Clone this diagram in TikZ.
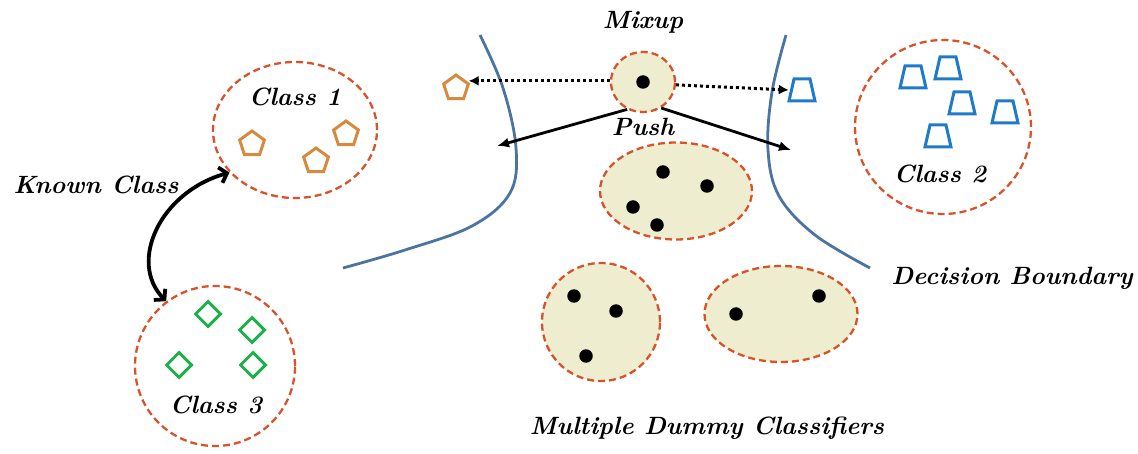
\documentclass[tikz,border=0pt]{standalone}
\usetikzlibrary{shapes.geometric,arrows.meta}
\definecolor{dashred}{HTML}{D9532A}
\definecolor{cream}{HTML}{EEEDD0}
\definecolor{penta}{HTML}{D68A3E}
\definecolor{trap}{HTML}{1F7BC9}
\definecolor{dia}{HTML}{1DB04A}
\definecolor{bound}{HTML}{4B74A0}
\tikzset{
  classcirc/.style={ellipse,draw=dashred,line width=2.3pt,dash pattern=on 7pt off 4pt,inner sep=0pt},
  dummy/.style={classcirc,fill=cream},
  pent/.style={regular polygon,regular polygon sides=5,draw=penta,line width=3pt,minimum size=26pt,inner sep=0pt},
  trpbox/.style={rectangle,minimum width=26pt,minimum height=24pt,inner sep=0pt},
  trapz/.pic={\draw[trap,line width=3pt,line join=miter] (-13,11) -- (13,11) -- (8,-11) -- (-8,-11) -- cycle;},
  dmd/.style={diamond,draw=dia,line width=3pt,minimum size=26pt,inner sep=0pt},
  dot/.style={circle,fill=black,minimum size=13.5pt,inner sep=0pt},
  lbl/.style={font=\fontsize{25}{28}\selectfont\bfseries\itshape},
  bnd/.style={draw=bound,line width=2.8pt},
  pusharrow/.style={line width=2.8pt,-{Latex[length=12pt,width=10pt]}},
  mixarrow/.style={line width=3pt,dash pattern=on 3pt off 3pt,-{Latex[length=10pt,width=10pt]}},
}
\begin{document}
\begin{tikzpicture}[x=1pt,y=-1pt]
\useasboundingbox (0,0) rectangle (1138,454);
% decision boundaries
\draw[bnd] plot[smooth,tension=0.6] coordinates {(480,35) (503,88) (516,148) (510,193) (472,226) (405,250) (343,268)};
\draw[bnd] plot[smooth,tension=0.6] coordinates {(786,35) (772,92) (768,150) (779,196) (815,235) (870,268)};
% class 1
\node[classcirc,minimum width=164pt,minimum height=136pt] (c1) at (295,130) {};
\node[lbl] (c1t) at (295,97) {Class 1};
\node[pent] (p1) at (252,144) {};
\node[pent] (p2) at (316,161) {};
\node[pent] (p3) at (346,134) {};
% class 3
\node[classcirc,minimum width=160pt,minimum height=160pt] (c3) at (215,366) {};
\node[lbl] (c3t) at (216,405) {Class 3};
\node[dmd] (d1) at (208,314) {};
\node[dmd] (d2) at (252,330) {};
\node[dmd] (d3) at (179,365) {};
\node[dmd] (d4) at (253,365) {};
% known class
\node[lbl] (kc) at (96,185) {Known Class};
\draw[line width=3.8pt,{Straight Barb[length=7pt,width=16pt]}-{Straight Barb[length=7pt,width=16pt]}] (c1.213) .. controls (160,192) and (128,262) .. (c3.127);
% class 2
\node[classcirc,minimum width=176pt,minimum height=174pt] (c2) at (943,127) {};
\node[lbl] (c2t) at (940,174) {Class 2};
\node[trpbox] (t1) at (913,77) {}; \pic at (t1) {trapz};
\node[trpbox] (t2) at (948,68) {}; \pic at (t2) {trapz};
\node[trpbox] (t3) at (962,103) {}; \pic at (t3) {trapz};
\node[trpbox] (t4) at (1005,112) {}; \pic at (t4) {trapz};
\node[trpbox] (t5) at (938,136) {}; \pic at (t5) {trapz};
\node[lbl] (db) at (1012,278) {Decision Boundary};
% mixup
\node[dummy,minimum width=64pt,minimum height=60pt] (mx) at (643,82) {};
\node[dot] (mxd) at (643,82) {};
\node[lbl] (mxt) at (643,22) {Mixup};
\node[pent] (lp) at (456,88) {};
\node[trpbox] (rt) at (802,90) {}; \pic at (rt) {trapz};
\draw[mixarrow] (mx.178) -- (lp.east |- mx.178);
\draw[mixarrow] (mx.-5) -- (rt.west);
\node[lbl] (pt) at (643,127) {Push};
\coordinate (pl) at (497,146);
\coordinate (pr) at (791,150);
\draw[pusharrow] (mx.240) -- (pl);
\draw[pusharrow] (mx.-55) -- (pr);
% dummy classifiers
\node[dummy,minimum width=152pt,minimum height=97pt] (e1) at (676,191) {};
\node[dot] (e1a) at (663,172) {};
\node[dot] (e1b) at (707,186) {};
\node[dot] (e1c) at (633,207) {};
\node[dot] (e1d) at (657,225) {};
\node[dummy,minimum width=118pt,minimum height=118pt] (e2) at (601,322) {};
\node[dot] (e2a) at (574,296) {};
\node[dot] (e2b) at (616,311) {};
\node[dot] (e2c) at (586,356) {};
\node[dummy,minimum width=153pt,minimum height=96pt] (e3) at (781,314) {};
\node[dot] (e3a) at (736,314) {};
\node[dot] (e3b) at (819,296) {};
\node[lbl] (mdc) at (707,428) {Multiple Dummy Classifiers};
\end{tikzpicture}
\end{document}
